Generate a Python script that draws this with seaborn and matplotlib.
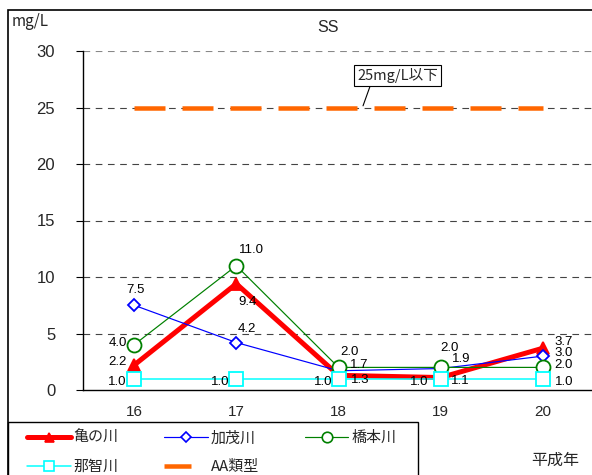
import matplotlib
matplotlib.use("Agg")
import matplotlib.pyplot as plt
import matplotlib.patches as mpatches
from matplotlib.lines import Line2D
from matplotlib.ticker import FixedLocator
import seaborn as sns
import pandas as pd

# ---------------- data ----------------
years = ["16", "17", "18", "19", "20"]
kamenokawa = [2.2, 9.4, 1.3, 1.1, 3.7]
kamogawa = [7.5, 4.2, 1.7, 1.9, 3.0]
hashimotogawa = [4.0, 11.0, 2.0, 2.0, 2.0]
nachigawa = [1.0, 1.0, 1.0, 1.0, 1.0]
aa_standard = [25, 25, 25, 25, 25]
series_names = ["亀の川", "加茂川", "橋本川", "那智川"]
y_ticks = [0, 5, 10, 15, 20, 25, 30]

# ---------------- style ----------------
sns.set_theme(style="white")
plt.rcParams["font.family"] = ["Noto Sans CJK JP", "DejaVu Sans"]

W, H = 592, 475
fig = plt.figure(figsize=(W / 100, H / 100), dpi=100)
PX = 0.72  # px -> pt at 100 dpi

def fx(x):
    return x / W

def fy(y):
    return 1 - y / H

ax = fig.add_axes([fx(83), fy(390), fx(594) - fx(83), fy(51) - fy(390)])

styles = [
    dict(color="#FF0000", marker="^", ms=12 * PX, lw=5 * PX, mfc="#FF0000", mec="#FF0000"),
    dict(color="#0000FF", marker="D", ms=9 * PX, lw=1.2 * PX, mfc="white", mec="#0000FF"),
    dict(color="#008000", marker="o", ms=14 * PX, lw=1.2 * PX, mfc="white", mec="#008000"),
    dict(color="#00FFFF", marker="s", ms=14 * PX, lw=1.5 * PX, mfc="white", mec="#00FFFF"),
]
values = [kamenokawa, kamogawa, hashimotogawa, nachigawa]

# AA standard line
aa_df = pd.DataFrame({"year": years, "v": aa_standard})
sns.lineplot(data=aa_df, x="year", y="v", ax=ax, color="#FF6600", lw=4.5 * PX,
             zorder=3, legend=False)
aa_line = ax.lines[-1]
aa_line.set_dashes([31 / 4.5, 17 / 4.5])
aa_line.set_solid_capstyle("butt")
aa_line.set_dash_capstyle("butt")

handles = []
for name, vals, st in zip(series_names, values, styles):
    df = pd.DataFrame({"year": years, "v": vals})
    sns.lineplot(data=df, x="year", y="v", ax=ax, color=st["color"], lw=st["lw"],
                 marker=st["marker"], markersize=st["ms"], markerfacecolor=st["mfc"],
                 markeredgecolor=st["mec"], markeredgewidth=1.3, zorder=4, legend=False)
    handles.append(Line2D([], [], color=st["color"], lw=st["lw"], marker=st["marker"],
                          markersize=st["ms"] * 0.75, markerfacecolor=st["mfc"],
                          markeredgecolor=st["mec"], markeredgewidth=1.2))

aa_handle = Line2D([], [], color="#FF6600", lw=4.5 * PX, dashes=[27 / 4.5, 40 / 4.5],
                   dash_capstyle="butt")

# data labels (pixel offsets dx, dy with y upward)
label_offsets = [
    [(-17, 3), (11, -18), (22, -5), (20, -3), (21, 6)],
    [(1, 15), (11, 14), (21, 6), (21, 10), (21, 3)],
    [(-16, 2), (15, 16), (11, 15), (9, 19), (21, 2)],
    [(-17, -3), (-16, -3), (-15, -3), (-21, -3), (21, -3)],
]
for vals, offs in zip(values, label_offsets):
    for i, (v, (dx, dy)) in enumerate(zip(vals, offs)):
        ax.annotate(f"{v:.1f}", (i, v), xytext=(dx * PX, dy * PX),
                    textcoords="offset points", ha="center", va="center",
                    fontsize=9.5, color="black", zorder=6,
                    family=["Liberation Sans", "DejaVu Sans"])

# axes formatting
ax.set_xlim(-0.5, 4.5)
ax.set_ylim(0, 30)
ax.set_yticks(y_ticks)
ax.set_yticklabels([str(t) for t in y_ticks], fontsize=12,
                   family=["Liberation Sans", "DejaVu Sans"])
ax.set_xticks(range(len(years)))
ax.set_xticklabels(years, fontsize=11, family=["Liberation Sans", "DejaVu Sans"])
ax.xaxis.set_minor_locator(FixedLocator([0.5, 1.5, 2.5, 3.5]))
ax.tick_params(axis="x", which="major", length=0, pad=11)
ax.tick_params(axis="x", which="minor", direction="in", length=5, width=0.8, color="black")
ax.tick_params(axis="y", which="major", direction="out", length=5, width=0.8,
               color="black", left=True, pad=15)
ax.set_xlabel("")
ax.set_ylabel("")
for yv in y_ticks[1:]:
    ax.axhline(yv, color="#444444" if yv < 30 else "#888888", lw=0.8,
               dashes=(6, 5), zorder=1)
for s in ["top", "right"]:
    ax.spines[s].set_visible(False)
ax.spines["left"].set_color("black")
ax.spines["bottom"].set_color("black")
ax.spines["left"].set_linewidth(1.0)
ax.spines["bottom"].set_linewidth(1.0)

# callout
ax.annotate("25mg/L以下", xy=(2.24, 25.15), xytext=(2.58, 27.8),
            fontsize=10.5, ha="center", va="center",
            bbox=dict(boxstyle="square,pad=0.2", fc="white", ec="black", lw=0.8),
            arrowprops=dict(arrowstyle="-", color="black", lw=0.8,
                            shrinkA=0, shrinkB=0, relpos=(0.17, 0)),
            zorder=7)

# texts
fig.text(fx(328), fy(28), "SS", fontsize=11.5, ha="center", va="center",
         family=["Liberation Sans", "DejaVu Sans"])
fig.text(fx(12), fy(22), "mg/L", fontsize=11, ha="left", va="center")
fig.text(fx(555), fy(460), "平成年", fontsize=11.5, ha="center", va="center")

# outer frame and legend frame
fig.patches.append(mpatches.Rectangle((fx(8), -0.1), 1.2, fy(10) + 0.1, transform=fig.transFigure,
                                      fill=False, ec="black", lw=1.2))
fig.patches.append(mpatches.Rectangle((fx(8), -0.1), fx(418) - fx(8), fy(422) + 0.1,
                                      transform=fig.transFigure, fill=False, ec="black", lw=1.0))

leg_handles = [handles[0], handles[3], handles[1], aa_handle, handles[2]]
leg_labels = ["亀の川", "那智川", "加茂川", "AA類型", "橋本川"]
fig.legend(leg_handles, leg_labels, loc="upper left", bbox_to_anchor=(fx(27), fy(431)),
           ncol=3, frameon=False, fontsize=10.8, handlelength=2.9, handletextpad=0.2,
           columnspacing=3.05, borderpad=0, borderaxespad=0, labelspacing=1.0)

fig.savefig("out.png", dpi=100)
